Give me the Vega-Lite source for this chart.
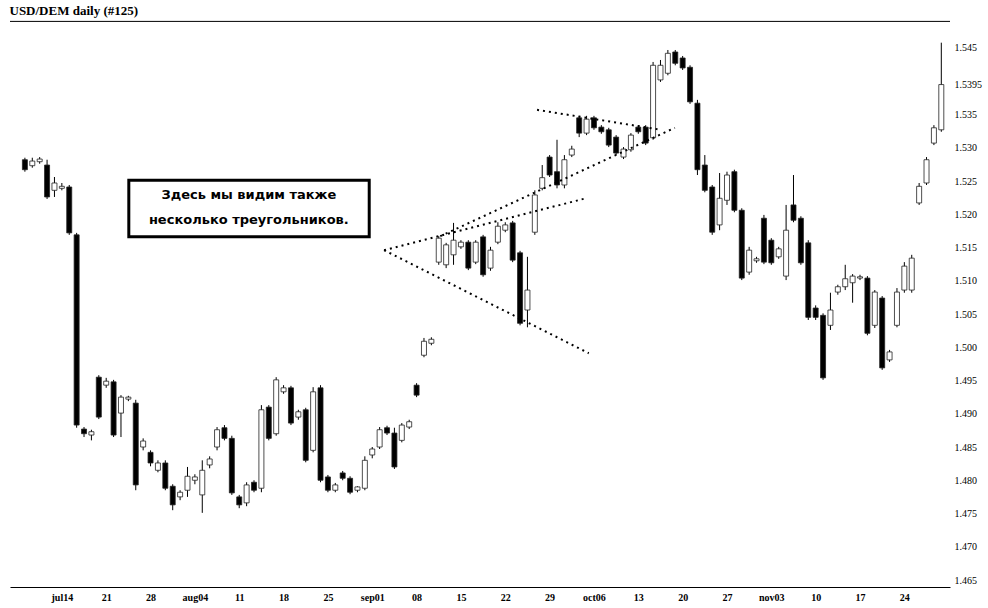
{
  "$schema": "https://vega.github.io/schema/vega-lite/v6.json",
  "width": 940,
  "height": 566,
  "autosize": {"type": "none"},
  "padding": {"left": 10, "top": 21, "right": 38, "bottom": 21},
  "background": "white",
  "title": {"text": "USD/DEM   daily   (#125)", "anchor": "start", "font": "Liberation Serif", "fontSize": 13, "fontWeight": "bold", "offset": 3, "color": "black"},
  "config": {"view": {"stroke": null}, "axis": {"grid": false, "ticks": false, "labelColor": "black", "labelOverlap": false, "labelSeparation": 0, "labelBound": false}},
  "datasets": {
    "candles": [
      {"t":0,"o":1.5282,"h":1.5285,"l":1.5264,"c":1.5267},
      {"t":1,"o":1.5273,"h":1.5285,"l":1.5270,"c":1.5280},
      {"t":2,"o":1.5279,"h":1.5286,"l":1.5276,"c":1.5283},
      {"t":3,"o":1.5274,"h":1.5282,"l":1.5223,"c":1.5226},
      {"t":4,"o":1.5236,"h":1.5256,"l":1.5226,"c":1.5247},
      {"t":5,"o":1.5239,"h":1.5247,"l":1.5236,"c":1.5242},
      {"t":6,"o":1.5241,"h":1.5244,"l":1.5169,"c":1.5172},
      {"t":7,"o":1.5169,"h":1.5172,"l":1.4879,"c":1.4883},
      {"t":8,"o":1.4877,"h":1.4880,"l":1.4865,"c":1.4870},
      {"t":9,"o":1.4868,"h":1.4876,"l":1.4860,"c":1.4873},
      {"t":10,"o":1.4955,"h":1.4958,"l":1.4892,"c":1.4895},
      {"t":11,"o":1.4943,"h":1.4954,"l":1.4939,"c":1.4949},
      {"t":12,"o":1.4948,"h":1.4951,"l":1.4865,"c":1.4868},
      {"t":13,"o":1.4901,"h":1.4928,"l":1.4865,"c":1.4925},
      {"t":14,"o":1.4922,"h":1.4927,"l":1.4919,"c":1.4925},
      {"t":15,"o":1.4916,"h":1.4921,"l":1.4785,"c":1.4793},
      {"t":16,"o":1.4850,"h":1.4863,"l":1.4845,"c":1.4859},
      {"t":17,"o":1.4842,"h":1.4845,"l":1.4821,"c":1.4826},
      {"t":18,"o":1.4815,"h":1.4830,"l":1.4812,"c":1.4826},
      {"t":19,"o":1.4826,"h":1.4830,"l":1.4785,"c":1.4788},
      {"t":20,"o":1.4791,"h":1.4794,"l":1.4755,"c":1.4763},
      {"t":21,"o":1.4775,"h":1.4785,"l":1.4770,"c":1.4782},
      {"t":22,"o":1.4785,"h":1.4820,"l":1.4775,"c":1.4806},
      {"t":23,"o":1.4800,"h":1.4809,"l":1.4794,"c":1.4805},
      {"t":24,"o":1.4778,"h":1.4830,"l":1.4751,"c":1.4815},
      {"t":25,"o":1.4823,"h":1.4836,"l":1.4818,"c":1.4832},
      {"t":26,"o":1.4850,"h":1.4880,"l":1.4845,"c":1.4876},
      {"t":27,"o":1.4879,"h":1.4883,"l":1.4860,"c":1.4863},
      {"t":28,"o":1.4863,"h":1.4867,"l":1.4778,"c":1.4781},
      {"t":29,"o":1.4775,"h":1.4778,"l":1.4758,"c":1.4763},
      {"t":30,"o":1.4766,"h":1.4797,"l":1.4761,"c":1.4793},
      {"t":31,"o":1.4797,"h":1.4800,"l":1.4782,"c":1.4785},
      {"t":32,"o":1.4788,"h":1.4913,"l":1.4782,"c":1.4906},
      {"t":33,"o":1.4910,"h":1.4913,"l":1.4860,"c":1.4863},
      {"t":34,"o":1.4870,"h":1.4955,"l":1.4867,"c":1.4951},
      {"t":35,"o":1.4933,"h":1.4943,"l":1.4930,"c":1.4939},
      {"t":36,"o":1.4939,"h":1.4942,"l":1.4883,"c":1.4886},
      {"t":37,"o":1.4895,"h":1.4906,"l":1.4891,"c":1.4903},
      {"t":38,"o":1.4906,"h":1.4909,"l":1.4827,"c":1.4830},
      {"t":39,"o":1.4845,"h":1.4940,"l":1.4842,"c":1.4933},
      {"t":40,"o":1.4939,"h":1.4943,"l":1.4797,"c":1.4800},
      {"t":41,"o":1.4805,"h":1.4808,"l":1.4782,"c":1.4785},
      {"t":42,"o":1.4785,"h":1.4796,"l":1.4782,"c":1.4793},
      {"t":43,"o":1.4811,"h":1.4814,"l":1.4800,"c":1.4803},
      {"t":44,"o":1.4803,"h":1.4806,"l":1.4779,"c":1.4782},
      {"t":45,"o":1.4785,"h":1.4791,"l":1.4782,"c":1.4790},
      {"t":46,"o":1.4788,"h":1.4836,"l":1.4785,"c":1.4830},
      {"t":47,"o":1.4838,"h":1.4850,"l":1.4833,"c":1.4847},
      {"t":48,"o":1.4850,"h":1.4880,"l":1.4847,"c":1.4876},
      {"t":49,"o":1.4879,"h":1.4882,"l":1.4868,"c":1.4871},
      {"t":50,"o":1.4871,"h":1.4879,"l":1.4817,"c":1.4820},
      {"t":51,"o":1.4860,"h":1.4886,"l":1.4857,"c":1.4883},
      {"t":52,"o":1.4880,"h":1.4891,"l":1.4877,"c":1.4888},
      {"t":53,"o":1.4943,"h":1.4946,"l":1.4925,"c":1.4928},
      {"t":54,"o":1.4988,"h":1.5014,"l":1.4985,"c":1.5009},
      {"t":55,"o":1.5006,"h":1.5015,"l":1.5003,"c":1.5012},
      {"t":56,"o":1.5128,"h":1.5167,"l":1.5124,"c":1.5164},
      {"t":57,"o":1.5124,"h":1.5157,"l":1.5119,"c":1.5154},
      {"t":58,"o":1.5139,"h":1.5187,"l":1.5124,"c":1.5161},
      {"t":59,"o":1.5151,"h":1.5161,"l":1.5148,"c":1.5158},
      {"t":60,"o":1.5158,"h":1.5161,"l":1.5116,"c":1.5119},
      {"t":61,"o":1.5128,"h":1.5161,"l":1.5125,"c":1.5158},
      {"t":62,"o":1.5166,"h":1.5169,"l":1.5106,"c":1.5109},
      {"t":63,"o":1.5119,"h":1.5151,"l":1.5115,"c":1.5146},
      {"t":64,"o":1.5158,"h":1.5188,"l":1.5155,"c":1.5182},
      {"t":65,"o":1.5176,"h":1.5188,"l":1.5173,"c":1.5184},
      {"t":66,"o":1.5187,"h":1.5190,"l":1.5128,"c":1.5131},
      {"t":67,"o":1.5142,"h":1.5145,"l":1.5033,"c":1.5036},
      {"t":68,"o":1.5056,"h":1.5136,"l":1.5030,"c":1.5086},
      {"t":69,"o":1.5173,"h":1.5236,"l":1.5169,"c":1.5229},
      {"t":70,"o":1.5239,"h":1.5274,"l":1.5236,"c":1.5255},
      {"t":71,"o":1.5286,"h":1.5289,"l":1.5256,"c":1.5259},
      {"t":72,"o":1.5264,"h":1.5312,"l":1.5239,"c":1.5244},
      {"t":73,"o":1.5244,"h":1.5289,"l":1.5239,"c":1.5282},
      {"t":74,"o":1.5289,"h":1.5303,"l":1.5286,"c":1.5298},
      {"t":75,"o":1.5345,"h":1.5348,"l":1.5316,"c":1.5322},
      {"t":76,"o":1.5322,"h":1.5348,"l":1.5319,"c":1.5343},
      {"t":77,"o":1.5345,"h":1.5348,"l":1.5327,"c":1.5330},
      {"t":78,"o":1.5331,"h":1.5334,"l":1.5321,"c":1.5324},
      {"t":79,"o":1.5327,"h":1.5330,"l":1.5301,"c":1.5304},
      {"t":80,"o":1.5316,"h":1.5319,"l":1.5289,"c":1.5292},
      {"t":81,"o":1.5286,"h":1.5301,"l":1.5283,"c":1.5298},
      {"t":82,"o":1.5297,"h":1.5322,"l":1.5294,"c":1.5319},
      {"t":83,"o":1.5331,"h":1.5334,"l":1.5321,"c":1.5324},
      {"t":84,"o":1.5331,"h":1.5334,"l":1.5304,"c":1.5307},
      {"t":85,"o":1.5315,"h":1.5429,"l":1.5312,"c":1.5424},
      {"t":86,"o":1.5402,"h":1.5432,"l":1.5399,"c":1.5424},
      {"t":87,"o":1.5412,"h":1.5447,"l":1.5409,"c":1.5442},
      {"t":88,"o":1.5444,"h":1.5447,"l":1.5424,"c":1.5427},
      {"t":89,"o":1.5435,"h":1.5438,"l":1.5417,"c":1.5420},
      {"t":90,"o":1.5421,"h":1.5424,"l":1.5366,"c":1.5369},
      {"t":91,"o":1.5367,"h":1.5372,"l":1.5259,"c":1.5267},
      {"t":92,"o":1.5274,"h":1.5289,"l":1.5233,"c":1.5236},
      {"t":93,"o":1.5241,"h":1.5244,"l":1.5169,"c":1.5173},
      {"t":94,"o":1.5184,"h":1.5262,"l":1.5176,"c":1.5224},
      {"t":95,"o":1.5221,"h":1.5264,"l":1.5214,"c":1.5259},
      {"t":96,"o":1.5264,"h":1.5267,"l":1.5203,"c":1.5206},
      {"t":97,"o":1.5206,"h":1.5209,"l":1.5101,"c":1.5104},
      {"t":98,"o":1.5113,"h":1.5151,"l":1.5109,"c":1.5146},
      {"t":99,"o":1.5130,"h":1.5136,"l":1.5127,"c":1.5133},
      {"t":100,"o":1.5194,"h":1.5199,"l":1.5125,"c":1.5128},
      {"t":101,"o":1.5161,"h":1.5164,"l":1.5124,"c":1.5127},
      {"t":102,"o":1.5136,"h":1.5151,"l":1.5133,"c":1.5148},
      {"t":103,"o":1.5107,"h":1.5214,"l":1.5101,"c":1.5176},
      {"t":104,"o":1.5214,"h":1.5259,"l":1.5188,"c":1.5191},
      {"t":105,"o":1.5194,"h":1.5197,"l":1.5124,"c":1.5127},
      {"t":106,"o":1.5157,"h":1.5161,"l":1.5041,"c":1.5045},
      {"t":107,"o":1.5059,"h":1.5063,"l":1.5041,"c":1.5045},
      {"t":108,"o":1.5048,"h":1.5051,"l":1.4951,"c":1.4954},
      {"t":109,"o":1.5033,"h":1.5082,"l":1.5026,"c":1.5056},
      {"t":110,"o":1.5083,"h":1.5094,"l":1.5079,"c":1.5091},
      {"t":111,"o":1.5091,"h":1.5124,"l":1.5086,"c":1.5103},
      {"t":112,"o":1.5097,"h":1.5110,"l":1.5067,"c":1.5107},
      {"t":113,"o":1.5104,"h":1.5109,"l":1.5101,"c":1.5106},
      {"t":114,"o":1.5104,"h":1.5107,"l":1.5018,"c":1.5021},
      {"t":115,"o":1.5033,"h":1.5086,"l":1.5029,"c":1.5083},
      {"t":116,"o":1.5074,"h":1.5077,"l":1.4966,"c":1.4969},
      {"t":117,"o":1.4981,"h":1.4996,"l":1.4978,"c":1.4993},
      {"t":118,"o":1.5033,"h":1.5089,"l":1.5030,"c":1.5083},
      {"t":119,"o":1.5086,"h":1.5128,"l":1.5082,"c":1.5122},
      {"t":120,"o":1.5086,"h":1.5139,"l":1.5082,"c":1.5134},
      {"t":121,"o":1.5217,"h":1.5247,"l":1.5214,"c":1.5242},
      {"t":122,"o":1.5247,"h":1.5286,"l":1.5244,"c":1.5282},
      {"t":123,"o":1.5307,"h":1.5334,"l":1.5304,"c":1.5330},
      {"t":124,"o":1.5327,"h":1.5458,"l":1.5324,"c":1.5395}
    ],
    "lines": [
      {"x1":48.6,"p1":1.5146,"x2":75.9,"p2":1.5224},
      {"x1":48.6,"p1":1.5146,"x2":76.3,"p2":1.4991},
      {"x1":56.2,"p1":1.5167,"x2":87.95,"p2":1.5330},
      {"x1":69.3,"p1":1.5357,"x2":86.1,"p2":1.5327}
    ],
    "box": [
      {"x1":14.06,"x2":46.59,"p1":1.5251,"p2":1.5166}
    ],
    "notes": [
      {"x":30.3,"p":1.5229,"text":"Здесь мы видим  также"},
      {"x":30.3,"p":1.5191,"text":"несколько треугольников."}
    ],
    "top": [{"p":1.5490}]
  },
  "layer": [
    {
      "data": {"name": "candles"},
      "mark": {"type": "rule", "color": "black", "strokeWidth": 1},
      "encoding": {
        "x": {"field": "t", "type": "quantitative",
              "scale": {"domain": [-1.34, 124.5], "nice": false, "zero": false},
              "axis": {"values": [5,11,17,23,29,35,41,47,53,59,65,71,77,83,89,95,101,107,113,119],
                       "tickCount": 40,
                       "labelExpr": "['jul14','21','28','aug04','11','18','25','sep01','08','15','22','29','oct06','13','20','27','nov03','10','17','24'][round((datum.value-5)/6)]",
                       "domain": true, "domainColor": "black", "domainWidth": 1,
                       "labelFont": "Liberation Serif", "labelFontSize": 10, "labelFontWeight": "bold",
                       "labelPadding": 5, "labelFlush": false, "labelOverlap": false, "title": null}},
        "y": {"field": "l", "type": "quantitative",
              "scale": {"domain": [1.46395, 1.54906], "nice": false, "zero": false},
              "axis": {"orient": "right",
                       "values": [1.465,1.47,1.475,1.48,1.485,1.49,1.495,1.5,1.505,1.51,1.515,1.52,1.525,1.53,1.535,1.5395,1.545],
                       "tickCount": 40,
                       "labelExpr": "datum.value == 1.5395 ? '1.5395' : format(datum.value, '.3f')",
                       "domain": false, "labelFont": "Liberation Serif", "labelFontSize": 10,
                       "labelPadding": 4, "labelOverlap": false, "labelSeparation": 0, "title": null}},
        "y2": {"field": "h"}
      }
    },
    {
      "data": {"name": "candles"},
      "mark": {"type": "bar", "size": 5, "stroke": "#222222", "strokeWidth": 0.8},
      "encoding": {
        "x": {"field": "t", "type": "quantitative"},
        "y": {"field": "o", "type": "quantitative"},
        "y2": {"field": "c"},
        "fill": {"condition": {"test": "datum.o > datum.c", "value": "black"}, "value": "white"}
      }
    },
    {
      "data": {"name": "lines"},
      "mark": {"type": "rule", "color": "black", "strokeWidth": 2, "strokeDash": [2, 4]},
      "encoding": {
        "x": {"field": "x1", "type": "quantitative"},
        "x2": {"field": "x2"},
        "y": {"field": "p1", "type": "quantitative"},
        "y2": {"field": "p2"}
      }
    },
    {
      "data": {"name": "box"},
      "mark": {"type": "rect", "fill": "white", "stroke": "black", "strokeWidth": 3},
      "encoding": {
        "x": {"field": "x1", "type": "quantitative"},
        "x2": {"field": "x2"},
        "y": {"field": "p1", "type": "quantitative"},
        "y2": {"field": "p2"}
      }
    },
    {
      "data": {"name": "notes"},
      "mark": {"type": "text", "font": "DejaVu Sans", "fontSize": 13, "fontWeight": "bold", "color": "black", "align": "center", "baseline": "middle"},
      "encoding": {
        "x": {"field": "x", "type": "quantitative"},
        "y": {"field": "p", "type": "quantitative"},
        "text": {"field": "text"}
      }
    },
    {
      "data": {"name": "top"},
      "mark": {"type": "rule", "color": "black", "strokeWidth": 1},
      "encoding": {"y": {"field": "p", "type": "quantitative"}}
    }
  ]
}
